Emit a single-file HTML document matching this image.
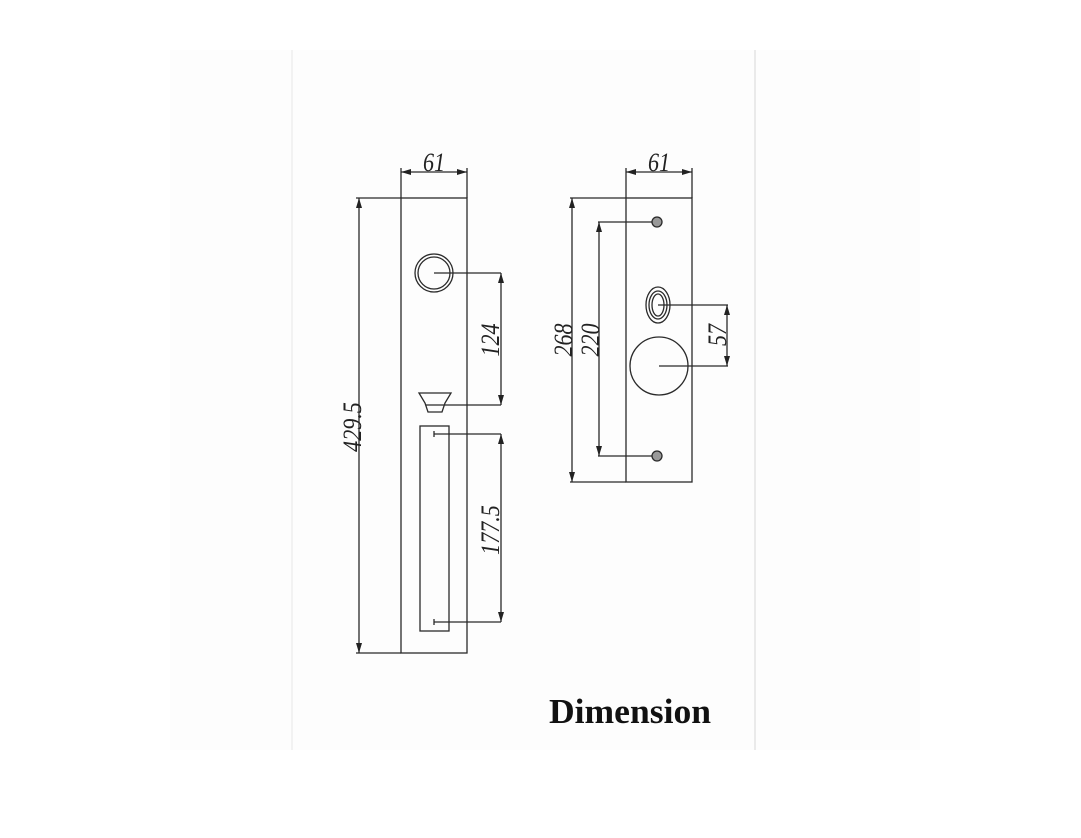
<!DOCTYPE html>
<html><head><meta charset="utf-8"><style>
html,body{margin:0;padding:0;background:#fff;}
svg{display:block;}
.t{font-family:"Liberation Serif",serif;font-style:italic;font-size:26px;fill:#222;}
</style></head><body>
<svg width="1081" height="838" viewBox="0 0 1081 838" xmlns="http://www.w3.org/2000/svg">
<defs>
<marker id="a" viewBox="0 0 10 6" refX="10" refY="3" markerWidth="14" markerHeight="6" markerUnits="userSpaceOnUse" orient="auto-start-reverse"><path d="M0,0 L10,3 L0,6 Z" fill="#222"/></marker>
</defs>
<rect x="0" y="0" width="1081" height="838" fill="#fff"/>
<rect x="170" y="50" width="750" height="700" fill="#fdfdfd"/>
<line x1="292" y1="50" x2="292" y2="750" stroke="#e6e6e6" stroke-width="1"/>
<line x1="755" y1="50" x2="755" y2="750" stroke="#d8d8d8" stroke-width="1"/>
<g stroke="#2a2a2a" stroke-width="1.3" fill="none">
<rect x="401" y="198" width="66" height="455"/>
<line x1="401" y1="168" x2="401" y2="198"/><line x1="467" y1="168" x2="467" y2="198"/>
<line x1="401" y1="172" x2="467" y2="172" marker-start="url(#a)" marker-end="url(#a)"/>
<line x1="356" y1="198" x2="401" y2="198"/><line x1="356" y1="653" x2="401" y2="653"/>
<line x1="359" y1="198" x2="359" y2="653" marker-start="url(#a)" marker-end="url(#a)"/>
<circle cx="434" cy="273" r="19"/><circle cx="434" cy="273" r="16"/>
<line x1="434" y1="273" x2="501" y2="273"/>
<line x1="501" y1="273" x2="501" y2="405" marker-start="url(#a)" marker-end="url(#a)"/>
<path d="M419,393 L451,393 L445,403 L442,412 L428,412 L425,403 Z"/>
<line x1="426" y1="405" x2="501" y2="405"/>
<rect x="420" y="426" width="29" height="205"/>
<line x1="434" y1="434" x2="501" y2="434"/><line x1="434" y1="431" x2="434" y2="437"/>
<line x1="434" y1="622" x2="501" y2="622"/><line x1="434" y1="619" x2="434" y2="625"/>
<line x1="501" y1="434" x2="501" y2="622" marker-start="url(#a)" marker-end="url(#a)"/>
<rect x="626" y="198" width="66" height="284"/>
<line x1="626" y1="168" x2="626" y2="198"/><line x1="692" y1="168" x2="692" y2="198"/>
<line x1="626" y1="172" x2="692" y2="172" marker-start="url(#a)" marker-end="url(#a)"/>
<line x1="570" y1="198" x2="626" y2="198"/><line x1="570" y1="482" x2="626" y2="482"/>
<line x1="572" y1="198" x2="572" y2="482" marker-start="url(#a)" marker-end="url(#a)"/>
<line x1="598" y1="222" x2="657" y2="222"/><line x1="598" y1="456" x2="657" y2="456"/>
<line x1="599" y1="222" x2="599" y2="456" marker-start="url(#a)" marker-end="url(#a)"/>
<circle cx="657" cy="222" r="5" fill="#999"/><circle cx="657" cy="456" r="5" fill="#999"/>
<ellipse cx="658" cy="305" rx="12" ry="18"/><ellipse cx="658" cy="305" rx="9" ry="14"/><ellipse cx="658" cy="305" rx="6" ry="11"/>
<line x1="658" y1="305" x2="728" y2="305"/>
<circle cx="659" cy="366" r="29"/>
<line x1="659" y1="366" x2="728" y2="366"/>
<line x1="727" y1="305" x2="727" y2="366" marker-start="url(#a)" marker-end="url(#a)"/>
</g>
<text class="t" text-anchor="middle" transform="translate(434,171) scale(0.85,1)">61</text>
<text class="t" text-anchor="middle" transform="translate(659,171) scale(0.85,1)">61</text>
<text class="t" text-anchor="middle" transform="translate(361,427) rotate(-90) scale(0.85,1)">429.5</text>
<text class="t" text-anchor="middle" transform="translate(499,340) rotate(-90) scale(0.85,1)">124</text>
<text class="t" text-anchor="middle" transform="translate(499,530) rotate(-90) scale(0.85,1)">177.5</text>
<text class="t" text-anchor="middle" transform="translate(572,340) rotate(-90) scale(0.85,1)">268</text>
<text class="t" text-anchor="middle" transform="translate(599,340) rotate(-90) scale(0.85,1)">220</text>
<text class="t" text-anchor="middle" transform="translate(726,335) rotate(-90) scale(0.85,1)">57</text>
<text x="549" y="723" font-family="Liberation Serif,serif" font-weight="bold" font-size="35" textLength="162" lengthAdjust="spacingAndGlyphs" fill="#111">Dimension</text>
</svg>
</body></html>
